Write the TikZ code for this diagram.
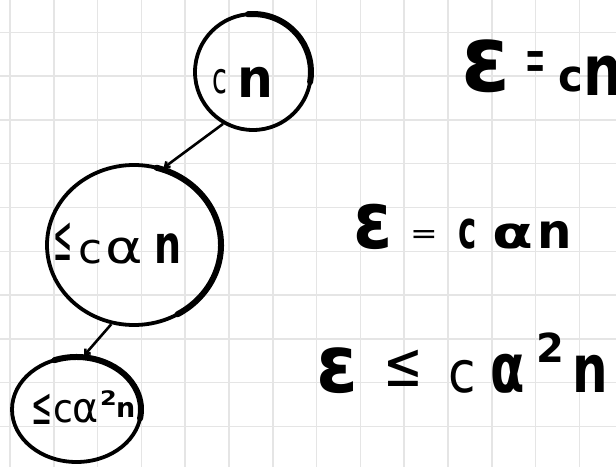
\documentclass[tikz,border=0pt]{standalone}
\usepackage{fontspec}
\setmainfont{DejaVu Sans}
\usepackage{graphicx}
\usetikzlibrary{shapes.geometric,arrows.meta}
\newcommand{\gl}[2]{\rlap{#2}\hspace{#1}}
\begin{document}
\begin{tikzpicture}[x=1pt,y=1pt,
  gridline/.style={draw=black!10, line width=1.5pt},
  bubble/.style={draw=black, ellipse, line width=3.8pt, inner sep=0pt},
  heavy/.style={line width=6pt, line cap=round},
  edge/.style={line width=2.6pt, -{Straight Barb[length=4pt,width=7pt]}},
  txt/.style={inner sep=0pt, anchor=base west}]
\useasboundingbox (0,0) rectangle (616,467);
\fill[white] (0,0) rectangle (616,467);
\clip (0,0) rectangle (616,467);
\foreach \i in {0,...,13} \draw[gridline] ({10+43.8*\i},0) -- ({10+43.8*\i},467);
\foreach \j in {0,...,9} \draw[gridline] (0,{434.7-43.8*\j}) -- (616,{434.7-43.8*\j});

\node[bubble, minimum width=116pt, minimum height=116pt] (top) at (253,395) {};
\node[bubble, minimum width=174pt, minimum height=160pt] (mid) at (134,222) {};
\node[bubble, minimum width=129pt, minimum height=105pt] (bot) at (76.5,57.5) {};

\draw[heavy] ([shift={(95:58 and 58)}]top.center) arc[start angle=95, end angle=-10, x radius=58, y radius=58];
\draw[heavy] ([shift={(75:87 and 80)}]mid.center) arc[start angle=75, end angle=-60, x radius=87, y radius=80];
\draw[heavy] ([shift={(110:64.5 and 52.5)}]bot.center) arc[start angle=110, end angle=-10, x radius=64.5, y radius=52.5];

\draw[edge] (top.240) -- (mid.69);
\draw[edge] (mid.254) -- (bot.82);

% texts inside the circles
\node[txt, font=\fontsize{36}{36}\selectfont] (tcn) at (212,373)
  {\gl{25pt}{\scalebox{0.75}[1.2]{c}}\gl{0pt}{\raisebox{-3pt}{\scalebox{1.4}[1.5]{\bfseries n}}}};
\node[txt, font=\fontsize{38}{38}\selectfont] (tmid) at (53,204)
  {\gl{25pt}{\raisebox{3pt}{\scalebox{0.6}[1.7]{≤}}}\gl{27pt}{\scalebox{1.15}[1.1]{c}}\gl{49pt}{\scalebox{1.5}[1.2]{α}}\gl{0pt}{\scalebox{1}[1.4]{\bfseries n}}};
\node[txt, font=\fontsize{36}{36}\selectfont] (tbot) at (31,45)
  {\gl{22pt}{\raisebox{-2pt}{\scalebox{0.7}[1.45]{≤}}}\gl{19pt}{\scalebox{1}[1.1]{c}}\gl{28pt}{\scalebox{1.1}[1.15]{α}}\gl{16pt}{\raisebox{17pt}{\scalebox{1.2}[1]{\fontsize{20}{20}\selectfont\bfseries 2}}}\gl{0pt}{\raisebox{5pt}{\scalebox{0.75}[0.75]{\bfseries n}}}};

% equations on the right
\node[txt, font=\fontsize{44}{44}\selectfont\bfseries] (eq1) at (461,375)
  {\gl{64pt}{\scalebox{2.0}[2.1]{ε}}\gl{33pt}{\raisebox{8pt}{\scalebox{0.55}[1.6]{\mdseries =}}}\gl{25pt}{\scalebox{0.95}[1]{c}}\gl{0pt}{\raisebox{-3pt}{\scalebox{1.25}[1.6]{n}}}};
\node[txt, font=\fontsize{44}{44}\selectfont\bfseries] (eq2) at (353,219)
  {\gl{57pt}{\scalebox{1.6}[1.8]{ε}}\gl{48pt}{\raisebox{5pt}{\scalebox{0.75}[0.65]{\mdseries =}}}\gl{34pt}{\scalebox{0.7}[1.2]{c}}\gl{45pt}{\scalebox{1.35}[1]{α}}\gl{0pt}{\scalebox{1.1}[1.1]{n}}};
\node[txt, font=\fontsize{50}{50}\selectfont\bfseries] (eq3) at (316,75)
  {\gl{67pt}{\scalebox{1.5}[1.6]{ε}}\gl{65pt}{\raisebox{6pt}{\scalebox{0.95}[1.25]{\mdseries ≤}}}\gl{42pt}{\scalebox{1}[1.15]{\mdseries c}}\gl{46pt}{\scalebox{1}[1.37]{α}}\gl{36pt}{\raisebox{30pt}{\fontsize{40}{40}\selectfont 2}}\gl{0pt}{\scalebox{1}[1.33]{n}}};
\end{tikzpicture}
\end{document}
